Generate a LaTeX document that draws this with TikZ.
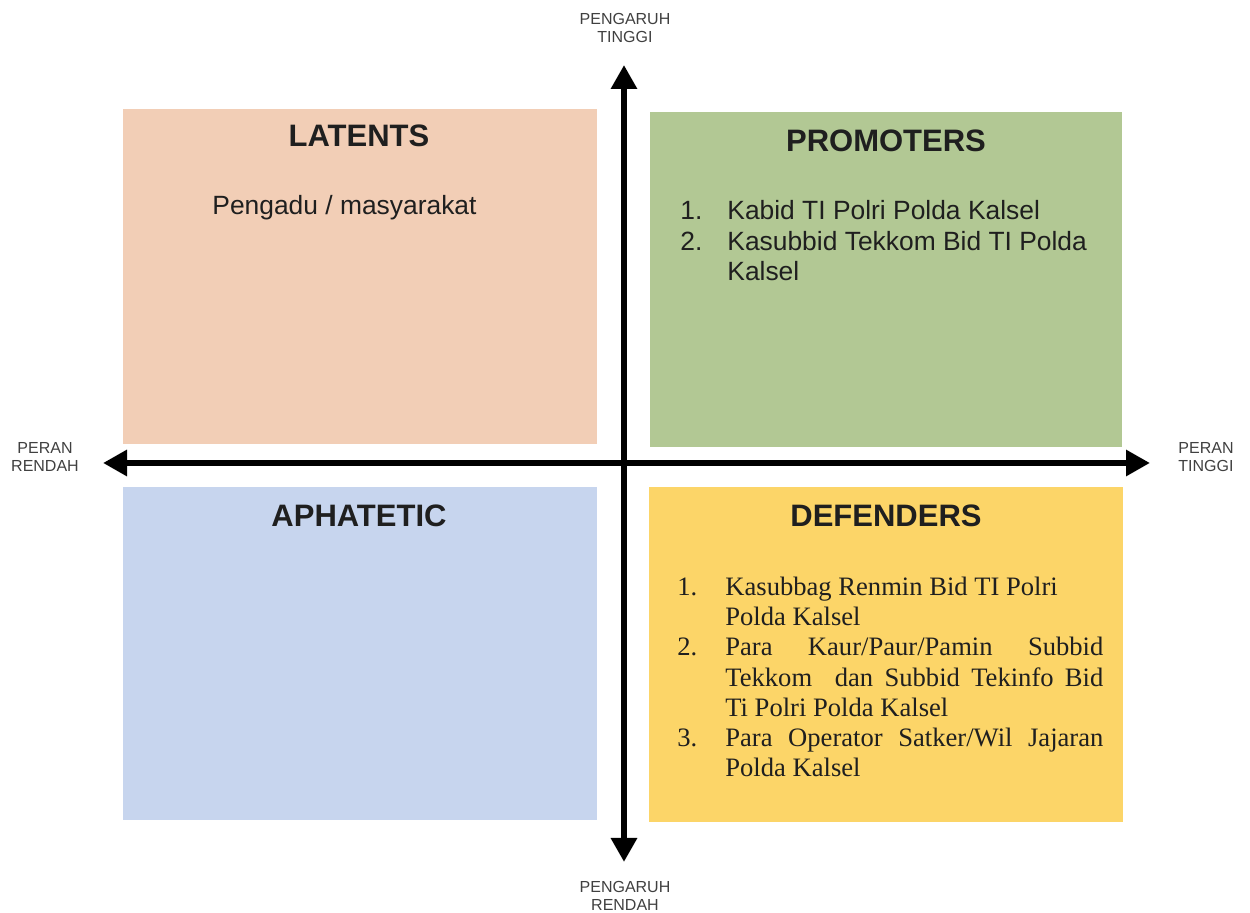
\documentclass[tikz,border=0pt]{standalone}
\usepackage{fontspec}
\setmainfont{Liberation Sans}
\newfontfamily\defserif{Liberation Serif}
\usetikzlibrary{arrows.meta,positioning}

\definecolor{latcol}{RGB}{242,206,182}
\definecolor{procol}{RGB}{178,200,148}
\definecolor{aphcol}{RGB}{199,213,238}
\definecolor{defcol}{RGB}{252,213,104}

\tikzstyle{quad} = [rectangle, draw=none, inner sep=0pt,
    minimum width=237pt, minimum height=167.5pt]
\tikzstyle{qtitle} = [anchor=base, inner sep=0pt, text=black!88,
    font=\fontsize{15.5}{18}\selectfont\bfseries]
\tikzstyle{qlist} = [anchor=north west, inner sep=0pt, text=black!88,
    font=\fontsize{13.2}{15.25}\selectfont]
\tikzstyle{axlabel} = [align=center, inner sep=0pt, text=black!75,
    font=\fontsize{8}{9}\selectfont]

\begin{document}
\begin{tikzpicture}[x=0.5pt,y=-0.5pt,
                    axis/.style={line width=3pt,{Triangle[length=12pt,width=12.5pt]}-{Triangle[length=12pt,width=12.5pt]}}]
  \useasboundingbox (0,0) rectangle (1250,913);

  % the four quadrants
  \node[quad,fill=latcol] (latents)   at (360,276.5) {};
  \node[quad,fill=procol,minimum width=236pt] (promoters) at (886,279.5) {};
  \node[quad,fill=aphcol,minimum height=166.5pt] (aphatetic) at (360,653.5) {};
  \node[quad,fill=defcol] (defenders) at (886,655) {};

  \node[qtitle] (latT) at (359,147) {LATENTS};
  \node[qtitle] (proT) at (886,152) {PROMOTERS};
  \node[qtitle] (aphT) at (359,527) {APHATETIC};
  \node[qtitle] (defT) at (886,527) {DEFENDERS};

  \node[qlist,anchor=base west] (latL) at (212,215) {Pengadu / masyarakat};

  \node[qlist] (proL) at (680,198) {%
    \begin{tabular}{@{}p{23.5pt}@{}l@{}}
      1. & Kabid TI Polri Polda Kalsel\\
      2. & Kasubbid Tekkom Bid TI Polda\\
         & Kalsel
    \end{tabular}};

  \node[qlist,font=\defserif\fontsize{13.3}{15.1}\selectfont] (defL) at (677,574) {%
    \begin{tabular}{@{}p{24pt}@{}l@{}}
      1. & Kasubbag Renmin Bid TI Polri\\
         & Polda Kalsel\\
      2. & \makebox[189pt][s]{Para Kaur/Paur/Pamin Subbid}\\
         & \makebox[189pt][s]{Tekkom\ \ dan Subbid Tekinfo Bid}\\
         & Ti Polri Polda Kalsel\\
      3. & \makebox[189pt][s]{Para Operator Satker/Wil Jajaran}\\
         & Polda Kalsel
    \end{tabular}};

  % axes
  \coordinate (ytop) at (624,65);
  \coordinate (ybot) at (624,862);
  \coordinate (xlft) at (103,463);
  \coordinate (xrgt) at (1150,463);
  \draw[axis] (xlft) -- (xrgt);
  \draw[axis] (ybot) -- (ytop);

  \node[axlabel] (hiInf) at (625,28)  {PENGARUH\\TINGGI};
  \node[axlabel] (loInf) at (625,896) {PENGARUH\\RENDAH};
  \node[axlabel] (loRol) at (45,457)  {PERAN\\RENDAH};
  \node[axlabel] (hiRol) at (1206,457) {PERAN\\TINGGI};
\end{tikzpicture}
\end{document}
